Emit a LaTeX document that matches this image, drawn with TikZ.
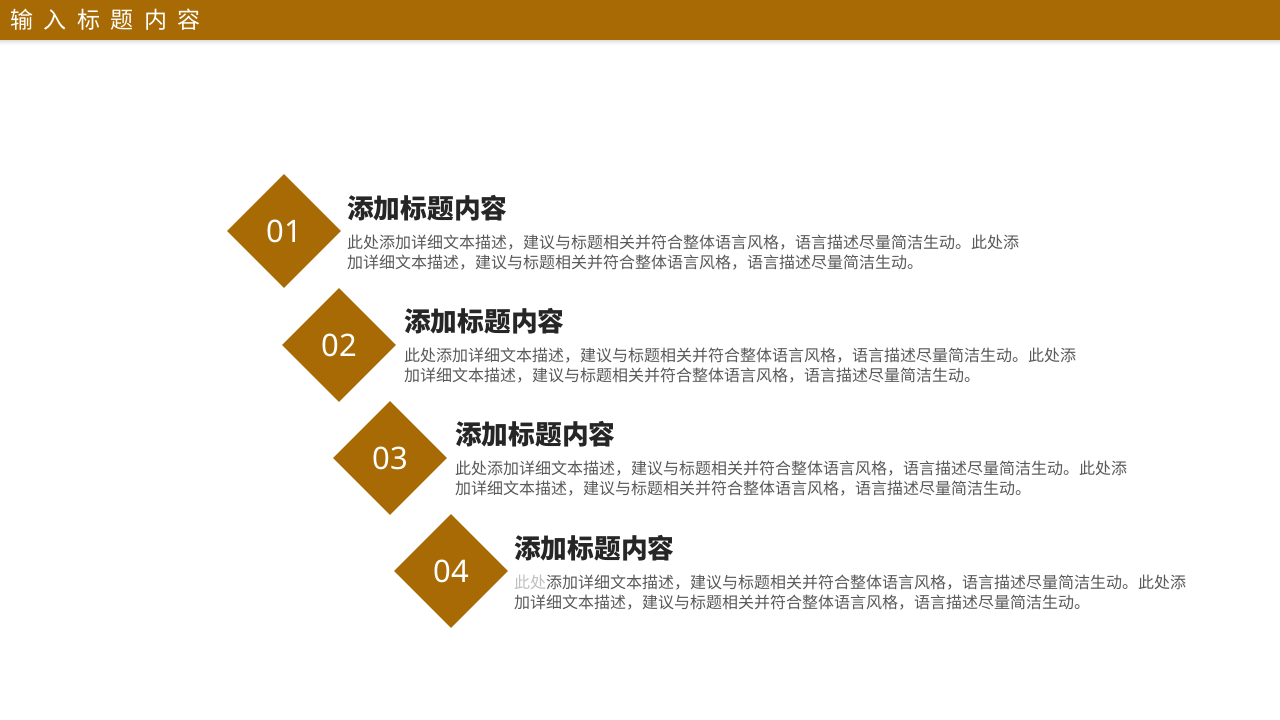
\documentclass[tikz,border=0pt]{standalone}
\usepackage{fontspec}
\setmainfont{Noto Sans}
\newfontfamily\cjk{Noto Sans CJK SC}
\usetikzlibrary{shapes.geometric}
\definecolor{brand}{HTML}{A86A04}
\definecolor{headtxt}{HTML}{262626}
\definecolor{bodytxt}{HTML}{595959}
\definecolor{faint}{HTML}{BFBFBF}
\tikzset{
  dia/.style={diamond, aspect=1, fill=brand, minimum width=114pt, minimum height=114pt, inner sep=0pt,
    text=white, font=\fontsize{31}{34}\selectfont},
  ttl/.style={anchor=west, inner sep=0pt, text=headtxt, font=\cjk\bfseries\fontsize{26.7}{28}\selectfont},
  body/.style={anchor=west, inner sep=0pt, text=bodytxt, font=\cjk\fontsize{16}{20}\selectfont},
}
\newcommand{\lineA}{添加详细文本描述，建议与标题相关并符合整体语言风格，语言描述尽量简洁生动。此处添}
\newcommand{\lineB}{加详细文本描述，建议与标题相关并符合整体语言风格，语言描述尽量简洁生动。}
\begin{document}
\begin{tikzpicture}[x=1pt,y=-1pt]
\useasboundingbox (0,0) rectangle (1280,720);
\fill[white] (0,0) rectangle (1280,720);
% header shadow
\foreach \i/\o in {0/0.12,1/0.09,2/0.06,3/0.04,4/0.02}{
  \fill[black,opacity=\o] (0,40+\i) rectangle (1280,41+\i);
}
\fill[brand] (0,0) rectangle (1280,40);
\node[anchor=west, inner sep=0pt, text=white, font=\cjk\fontsize{23}{24}\selectfont] (hdr) at (10,20)
  {输\hspace{10.5pt}入\hspace{10.5pt}标\hspace{10.5pt}题\hspace{10.5pt}内\hspace{10.5pt}容};

\node[dia] (d1) at (284,231) {01};
\node[ttl] (t1) at (347,208) {添加标题内容};
\node[body] (b1a) at (347,243) {此处\lineA};
\node[body] (b1b) at (347,263) {\lineB};

\node[dia] (d2) at (339,345) {02};
\node[ttl] (t2) at (404,321) {添加标题内容};
\node[body] (b2a) at (404,356) {此处\lineA};
\node[body] (b2b) at (404,376) {\lineB};

\node[dia] (d3) at (390,458) {03};
\node[ttl] (t3) at (455,434) {添加标题内容};
\node[body] (b3a) at (455,469) {此处\lineA};
\node[body] (b3b) at (455,489) {\lineB};

\node[dia] (d4) at (451,571) {04};
\node[ttl] (t4) at (514,548) {添加标题内容};
\node[body] (b4a) at (514,583) {\textcolor{faint}{此处}\lineA};
\node[body] (b4b) at (514,603) {\lineB};
\end{tikzpicture}
\end{document}
